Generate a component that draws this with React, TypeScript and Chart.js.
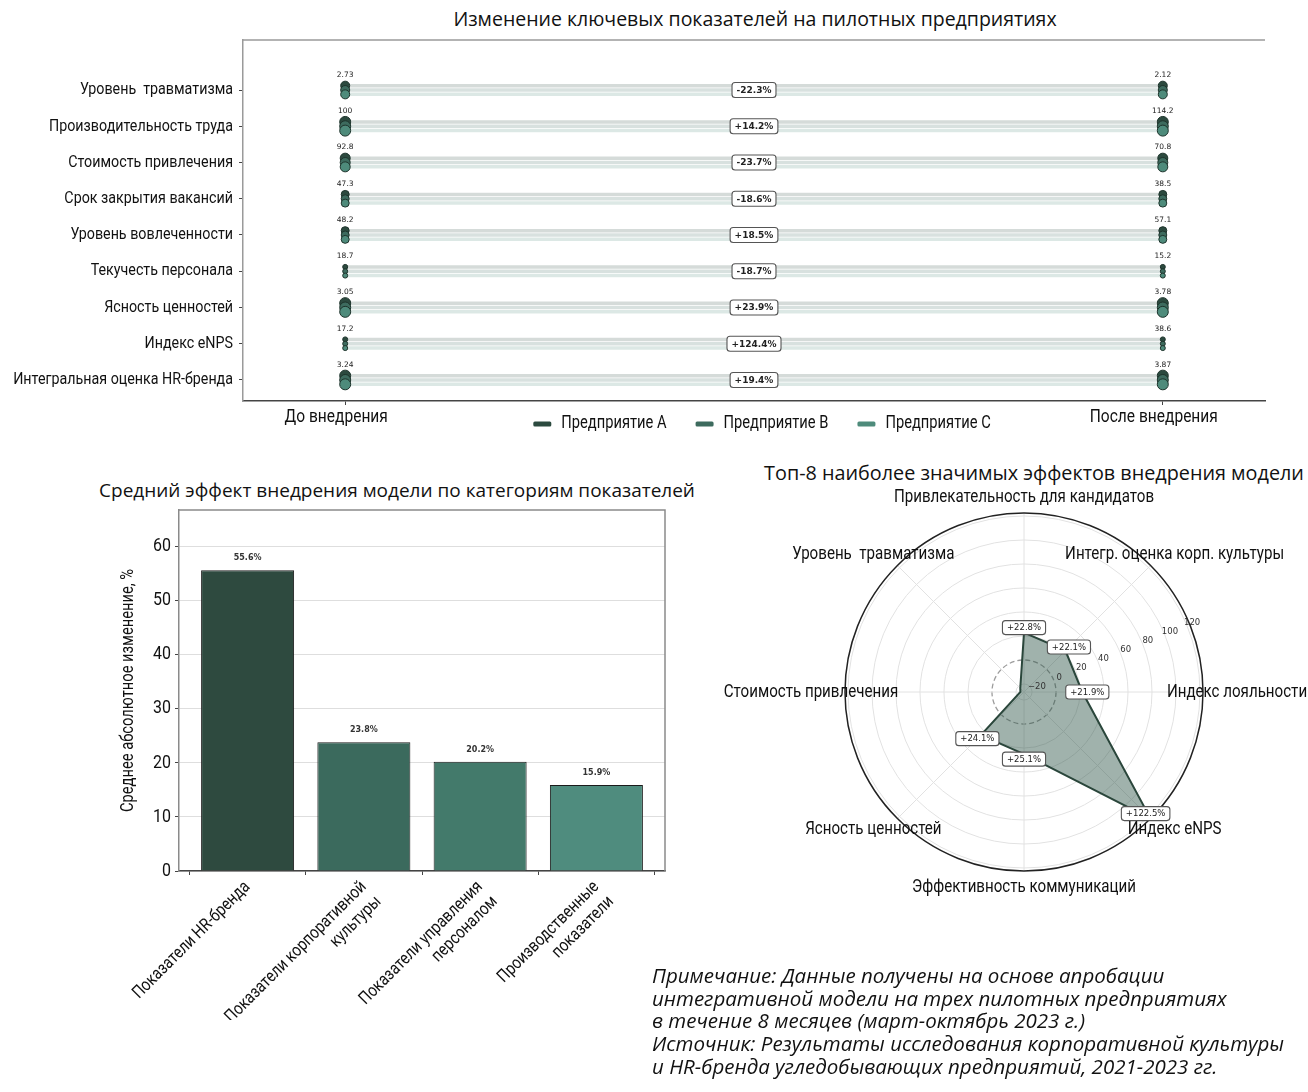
import React, { useEffect, useRef } from "react";
import { Chart, registerables } from "chart.js";

Chart.register(...registerables);

// ---------------- Data ----------------
const indicators = [
  "Уровень  травматизма",
  "Производительность труда",
  "Стоимость привлечения",
  "Срок закрытия вакансий",
  "Уровень вовлеченности",
  "Текучесть персонала",
  "Ясность ценностей",
  "Индекс eNPS",
  "Интегральная оценка HR-бренда",
];
const stages = ["До внедрения", "После внедрения"];
const enterprises = ["Предприятие A", "Предприятие B", "Предприятие C"];
const beforeValues = [2.73, 100, 92.8, 47.3, 48.2, 18.7, 3.05, 17.2, 3.24];
const afterValues = [2.12, 114.2, 70.8, 38.5, 57.1, 15.2, 3.78, 38.6, 3.87];
const changePct = [-22.3, 14.2, -23.7, -18.6, 18.5, -18.7, 23.9, 124.4, 19.4];

const barCategories = [
  ["Показатели HR-бренда"],
  ["Показатели корпоративной", "культуры"],
  ["Показатели управления", "персоналом"],
  ["Производственные", "показатели"],
];
const barValues = [55.6, 23.8, 20.2, 15.9];
const barTicks = [0, 10, 20, 30, 40, 50, 60];

const radarLabels = [
  "Привлекательность для кандидатов",
  "Интегр. оценка корп. культуры",
  "Индекс лояльности",
  "Индекс eNPS",
  "Эффективность коммуникаций",
  "Ясность ценностей",
  "Стоимость привлечения",
  "Уровень  травматизма",
];
const radarValues = [22.8, 22.1, 21.9, 122.5, 25.1, 24.1, -23.7, -22.3];
const radarTicks = [-20, 0, 20, 40, 60, 80, 100, 120];

// ---------------- Fonts ----------------
// No condensed face is installed, so text set in COND is drawn horizontally narrowed.
const CONDNAME = "Roboto";
const COND = '"Roboto", sans-serif';
const SX = 0.84;
const SANS = '"Open Sans", "Noto Sans", sans-serif';
const SMALL = '"DejaVu Sans", sans-serif';
const condFont = (size: number) => ({ family: COND, size });

function patchCtx(ctx: any) {
  if (ctx.__condensed) return;
  ctx.__condensed = true;
  const orig = ctx.fillText.bind(ctx);
  ctx.fillText = function (text: string, x: number, y: number, maxWidth?: number) {
    const f = String(ctx.font || "");
    if (f.indexOf(CONDNAME) >= 0) {
      ctx.save();
      ctx.translate(x, y);
      ctx.scale(SX, 1);
      if (maxWidth !== undefined && maxWidth !== null) orig(text, 0, 0, maxWidth / SX);
      else orig(text, 0, 0);
      ctx.restore();
    } else if (maxWidth !== undefined && maxWidth !== null) orig(text, x, y, maxWidth);
    else orig(text, x, y);
  };
}
Chart.register({
  id: "condenseText",
  beforeDraw(chart: any) {
    patchCtx(chart.ctx);
  },
} as any);

// ---------------- Styles ----------------
const enterpriseColors = ["#2c4a3f", "#3d6b5e", "#4e8b7b"];
const enterpriseBands = ["rgba(44,74,63,0.20)", "rgba(61,107,94,0.20)", "rgba(78,139,123,0.20)"];
const rowOffsets = [-0.12, 0, 0.12];
const markerRadius = [4.5, 5.5, 5, 4, 4, 2.5, 5.5, 2.5, 5.5];
const barColors = ["#2e4a3f", "#3b6a5d", "#437a6b", "#4f8c7e"];

Chart.defaults.font.family = COND;
Chart.defaults.color = "#111";

function rrect(ctx: CanvasRenderingContext2D, x: number, y: number, w: number, h: number, r: number) {
  ctx.beginPath();
  ctx.moveTo(x + r, y);
  ctx.lineTo(x + w - r, y);
  ctx.quadraticCurveTo(x + w, y, x + w, y + r);
  ctx.lineTo(x + w, y + h - r);
  ctx.quadraticCurveTo(x + w, y + h, x + w - r, y + h);
  ctx.lineTo(x + r, y + h);
  ctx.quadraticCurveTo(x, y + h, x, y + h - r);
  ctx.lineTo(x, y + r);
  ctx.quadraticCurveTo(x, y, x + r, y);
  ctx.closePath();
}

function labelBox(ctx: CanvasRenderingContext2D, text: string, cx: number, cy: number, font: string, h: number) {
  ctx.font = font;
  const w = ctx.measureText(text).width + 9;
  rrect(ctx, cx - w / 2, cy - h / 2, w, h, 3);
  ctx.fillStyle = "#ffffff";
  ctx.fill();
  ctx.lineWidth = 1.1;
  ctx.strokeStyle = "#555";
  ctx.stroke();
  ctx.fillStyle = "#222";
  ctx.textAlign = "center";
  ctx.textBaseline = "middle";
  ctx.fillText(text, cx, cy + 0.5);
}

const fmtPct = (v: number) => `${v > 0 ? "+" : ""}${v.toFixed(1)}%`;

// ---------------- Top chart ----------------
function TopChart() {
  const ref = useRef<HTMLCanvasElement>(null);
  useEffect(() => {
    const datasets: any[] = [];
    enterprises.forEach((name, e) => {
      const pts: any[] = [];
      indicators.forEach((_, r) => {
        pts.push({ x: 0, y: r + rowOffsets[e] }, { x: 1, y: r + rowOffsets[e] }, { x: null, y: null });
      });
      datasets.push({
        type: "line",
        label: name + " (линия)",
        data: pts,
        showLine: true,
        spanGaps: false,
        borderColor: enterpriseBands[e],
        borderWidth: 3.5,
        pointRadius: 0,
        order: 10,
      });
    });
    enterprises.forEach((name, e) => {
      const pts: any[] = [];
      indicators.forEach((_, r) => {
        pts.push({ x: 0, y: r + rowOffsets[e] }, { x: 1, y: r + rowOffsets[e] });
      });
      datasets.push({
        type: "scatter",
        label: name,
        data: pts,
        pointRadius: (c: any) => markerRadius[Math.floor(c.dataIndex / 2)],
        backgroundColor: enterpriseColors[e],
        borderColor: "#1d332b",
        borderWidth: 1,
        order: 3 - e,
      });
    });

    const decor = {
      id: "topDecor",
      afterDatasetsDraw(chart: any) {
        const { ctx, chartArea, scales } = chart;
        const x = scales.x;
        const y = scales.y;
        ctx.save();
        ctx.strokeStyle = "#9a9a9a";
        ctx.lineWidth = 1.5;
        ctx.beginPath();
        ctx.moveTo(chartArea.left, chartArea.top);
        ctx.lineTo(chartArea.right, chartArea.top);
        ctx.stroke();
        ctx.font = `7.5px ${SMALL}`;
        ctx.fillStyle = "#222";
        ctx.textAlign = "center";
        ctx.textBaseline = "middle";
        indicators.forEach((_, r) => {
          const py = y.getPixelForValue(r) - 15;
          ctx.fillText(String(beforeValues[r]), x.getPixelForValue(0), py);
          ctx.fillText(String(afterValues[r]), x.getPixelForValue(1), py);
        });
        indicators.forEach((_, r) => {
          labelBox(ctx, fmtPct(changePct[r]), x.getPixelForValue(0.5), y.getPixelForValue(r), `bold 9px ${SMALL}`, 15);
        });
        ctx.restore();
      },
      afterDraw(chart: any) {
        const { ctx, chartArea } = chart;
        ctx.save();
        ctx.font = `17.5px ${COND}`;
        ctx.textBaseline = "middle";
        ctx.textAlign = "left";
        const sw = 18, gapText = 10, gapItem = 29;
        const widths = enterprises.map((t) => ctx.measureText(t).width * SX);
        const total = widths.reduce((a, w) => a + sw + gapText + w, 0) + gapItem * (enterprises.length - 1);
        let px = (chartArea.left + chartArea.right) / 2 + 8 - total / 2;
        const py = chartArea.bottom + 23;
        enterprises.forEach((t, i) => {
          ctx.fillStyle = enterpriseColors[i];
          rrect(ctx, px, py - 2.5, sw, 5, 1.5);
          ctx.fill();
          ctx.fillStyle = "#111";
          ctx.fillText(t, px + sw + gapText, py);
          px += sw + gapText + widths[i] + gapItem;
        });
        ctx.restore();
      },
    };

    const chart = new Chart(ref.current as HTMLCanvasElement, {
      type: "scatter",
      data: { datasets },
      options: {
        animation: false,
        responsive: false,
        layout: { padding: { left: 0, top: 40, right: 43, bottom: 14 } },
        plugins: { legend: { display: false }, tooltip: { enabled: false } },
        scales: {
          x: {
            type: "linear",
            min: -0.125,
            max: 1.125,
            afterBuildTicks: (s: any) => {
              s.ticks = stages.map((_, i) => ({ value: i }));
            },
            afterFit: (s: any) => {
              s.height = 30;
            },
            ticks: {
              autoSkip: false,
              maxRotation: 0,
              padding: 1,
              labelOffset: -9,
              font: condFont(18.5),
              color: "#111",
              callback: (v: any) => stages[v],
            },
            grid: { drawOnChartArea: false, tickLength: 4, tickColor: "#444" },
            border: { color: "#444", width: 1.5 },
          },
          y: {
            type: "linear",
            reverse: true,
            min: -1.38,
            max: 8.58,
            afterBuildTicks: (s: any) => {
              s.ticks = indicators.map((_, i) => ({ value: i }));
            },
            afterFit: (s: any) => {
              s.width = 243;
            },
            ticks: {
              autoSkip: false,
              padding: 6,
              font: condFont(17),
              color: "#111",
              callback: (v: any) => indicators[v],
            },
            grid: { drawOnChartArea: false, tickLength: 4, tickColor: "#444" },
            border: { color: "#9a9a9a", width: 1.5 },
          },
        },
      } as any,
      plugins: [decor],
    });
    return () => chart.destroy();
  }, []);
  return <canvas ref={ref} width={1308} height={445} style={{ position: "absolute", left: 0, top: 0 }} />;
}

// ---------------- Bar chart ----------------
function BarChart() {
  const ref = useRef<HTMLCanvasElement>(null);
  useEffect(() => {
    const decor = {
      id: "barDecor",
      afterDatasetsDraw(chart: any) {
        const { ctx, chartArea, scales } = chart;
        ctx.save();
        ctx.strokeStyle = "#8a8a8a";
        ctx.lineWidth = 1.5;
        ctx.beginPath();
        ctx.moveTo(chartArea.left, chartArea.top);
        ctx.lineTo(chartArea.right, chartArea.top);
        ctx.lineTo(chartArea.right, chartArea.bottom);
        ctx.stroke();
        ctx.font = `bold 8px ${SMALL}`;
        ctx.fillStyle = "#333";
        ctx.textAlign = "center";
        ctx.textBaseline = "middle";
        barValues.forEach((v, i) => {
          ctx.fillText(`${v.toFixed(1)}%`, scales.x.getPixelForValue(i), scales.y.getPixelForValue(v) - 12);
        });
        ctx.restore();
      },
    };
    const chart = new Chart(ref.current as HTMLCanvasElement, {
      type: "bar",
      data: {
        datasets: [
          {
            label: "Средний эффект",
            data: barValues.map((v, i) => ({ x: i, y: v })),
            backgroundColor: barColors,
            borderColor: "#1b1b1b",
            borderWidth: 1,
            barPercentage: 0.8,
            categoryPercentage: 1,
          },
        ],
      },
      options: {
        animation: false,
        responsive: false,
        layout: { padding: { left: 0, top: 5, right: 35, bottom: 0 } },
        plugins: { legend: { display: false }, tooltip: { enabled: false } },
        scales: {
          x: {
            type: "linear",
            offset: false,
            min: -0.59,
            max: 3.59,
            afterBuildTicks: (s: any) => {
              s.ticks = barCategories.map((_, i) => ({ value: i }));
            },
            afterFit: (s: any) => {
              s.height = 149;
            },
            ticks: {
              autoSkip: false,
              minRotation: 45,
              maxRotation: 45,
              padding: 2,
              font: condFont(17.5),
              color: "#111",
              callback: (v: any) => barCategories[v],
            },
            grid: { drawOnChartArea: false, tickLength: 4, tickColor: "#444" },
            border: { color: "#444", width: 1.5 },
          },
          y: {
            min: 0,
            max: 66.72,
            afterBuildTicks: (s: any) => {
              s.ticks = barTicks.map((v) => ({ value: v }));
            },
            afterFit: (s: any) => {
              s.width = 79;
              s.paddingTop = 0;
              s.paddingBottom = 0;
            },
            ticks: { padding: 4, font: condFont(19), color: "#111" },
            grid: { color: "rgba(0,0,0,0.13)", tickLength: 4, tickColor: "#444" },
            border: { color: "#8a8a8a", width: 1.5 },
            title: {
              display: true,
              text: "Среднее абсолютное изменение, %",
              font: condFont(17.5),
              color: "#111",
              padding: { top: 18, bottom: 0 },
            },
          },
        },
      } as any,
      plugins: [decor],
    });
    return () => chart.destroy();
  }, []);
  return <canvas ref={ref} width={600} height={515} style={{ position: "absolute", left: 100, top: 505 }} />;
}

// ---------------- Radar chart ----------------
function RadarChart() {
  const ref = useRef<HTMLCanvasElement>(null);
  useEffect(() => {
    const decor = {
      id: "radarDecor",
      afterDatasetsDraw(chart: any) {
        const { ctx } = chart;
        const s = chart.scales.r;
        const cx = s.xCenter, cy = s.yCenter, R = s.drawingArea;
        ctx.save();
        ctx.strokeStyle = "#222";
        ctx.lineWidth = 1.5;
        ctx.beginPath();
        ctx.arc(cx, cy, R, 0, Math.PI * 2);
        ctx.stroke();
        ctx.font = `8.5px ${SMALL}`;
        ctx.fillStyle = "#333";
        ctx.textAlign = "center";
        ctx.textBaseline = "middle";
        const a = (22.5 * Math.PI) / 180;
        radarTicks.forEach((v) => {
          const d = s.getDistanceFromCenterForValue(v) + 6;
          const t = v < 0 ? `\u2212${Math.abs(v)}` : String(v);
          ctx.fillText(t, cx + d * Math.cos(a), cy - d * Math.sin(a));
        });
        radarValues.forEach((v, i) => {
          if (v <= 0) return;
          const d = Math.min(s.getDistanceFromCenterForValue(v) + 5, R - 7);
          const p = s.getPointPosition(i, d);
          labelBox(ctx, fmtPct(v), p.x, p.y, `8.5px ${SMALL}`, 14);
        });
        ctx.font = `18px ${COND}`;
        ctx.fillStyle = "#111";
        ctx.textAlign = "center";
        ctx.textBaseline = "middle";
        radarLabels.forEach((t, i) => {
          const ang = s.getIndexAngle(i) - Math.PI / 2;
          ctx.fillText(t, cx + Math.cos(ang) * (R + 34), cy + Math.sin(ang) * (R + 16));
        });
        ctx.restore();
      },
    };
    const chart = new Chart(ref.current as HTMLCanvasElement, {
      type: "radar",
      data: {
        labels: radarLabels,
        datasets: [
          {
            label: "Эффект, %",
            data: radarValues,
            backgroundColor: "rgba(45,85,70,0.45)",
            borderColor: "#2a463b",
            borderWidth: 2,
            pointRadius: 0,
            tension: 0,
          },
        ],
      },
      options: {
        animation: false,
        responsive: false,
        layout: { padding: { left: 145, right: 105, top: 33, bottom: 29 } },
        plugins: { legend: { display: false }, tooltip: { enabled: false } },
        scales: {
          r: {
            min: -26.7,
            max: 122.5,
            afterBuildTicks: (s: any) => {
              s.ticks = radarTicks.map((v) => ({ value: v }));
            },
            ticks: { display: false },
            pointLabels: { display: false },
            angleLines: { color: "#e2e2e2", lineWidth: 1 },
            grid: {
              circular: true,
              color: (c: any) => (c.tick && c.tick.value === 0 ? "#9c9c9c" : "#e2e2e2"),
              lineWidth: (c: any) => (c.tick && c.tick.value === 0 ? 1.3 : 1),
            },
            border: { dash: (c: any) => (c.tick && c.tick.value === 0 ? [5, 3] : []) },
          },
        },
      } as any,
      plugins: [decor],
    });
    return () => chart.destroy();
  }, []);
  return <canvas ref={ref} width={608} height={420} style={{ position: "absolute", left: 700, top: 480 }} />;
}

const titleStyle = (cx: number, cy: number, size: number): React.CSSProperties => ({
  position: "absolute",
  left: cx,
  top: cy,
  transform: "translate(-50%, -50%)",
  whiteSpace: "nowrap",
  fontFamily: SANS,
  fontSize: size,
  color: "#111",
});

export default function App() {
  return (
    <div style={{ position: "absolute", left: 0, top: 0, width: 1308, height: 1092, background: "#fff", overflow: "hidden" }}>
      <div style={titleStyle(755, 18, 19.5)}>Изменение ключевых показателей на пилотных предприятиях</div>
      <div style={titleStyle(397, 490, 19)}>Средний эффект внедрения модели по категориям показателей</div>
      <div style={titleStyle(1034, 472, 19.8)}>Топ-8 наиболее значимых эффектов внедрения модели</div>
      <TopChart />
      <BarChart />
      <RadarChart />
      <div
        style={{
          position: "absolute",
          left: 652,
          top: 964,
          fontFamily: SANS,
          fontStyle: "italic",
          fontSize: 20.5,
          lineHeight: "22.7px",
          color: "#111",
          whiteSpace: "nowrap",
        }}
      >
        <div>Примечание: Данные получены на основе апробации</div>
        <div>интегративной модели на трех пилотных предприятиях</div>
        <div>в течение 8 месяцев (март-октябрь 2023 г.)</div>
        <div>Источник: Результаты исследования корпоративной культуры</div>
        <div>и HR-бренда угледобывающих предприятий, 2021-2023 гг.</div>
      </div>
    </div>
  );
}
